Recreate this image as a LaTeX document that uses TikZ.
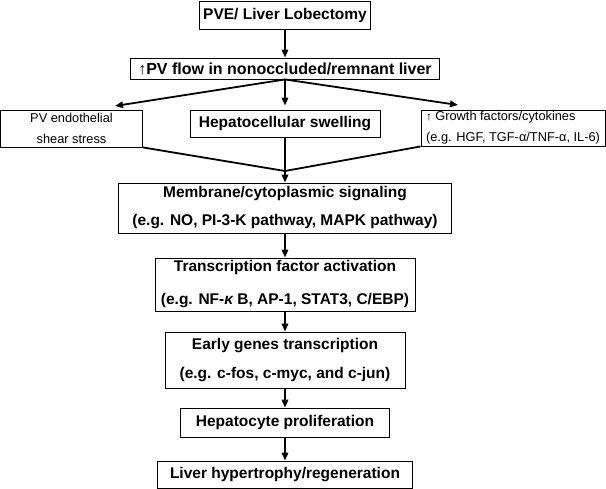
\documentclass[tikz,border=0pt]{standalone}
\usepackage{fontspec}
\setmainfont{Liberation Sans}
\usetikzlibrary{arrows.meta}

\begin{document}
\begin{tikzpicture}[x=1pt,y=-1pt,
  box/.style={draw,line width=0.9pt,inner sep=0pt,align=center,font=\bfseries\fontsize{15.5}{28}\selectfont},
  smallbox/.style={draw,line width=0.9pt,inner sep=0pt,font=\fontsize{12.8}{21}\selectfont},
  arr/.style={line width=1.8pt,-{Triangle[length=8pt,width=6.5pt]}},
  link/.style={line width=1.8pt}]
\useasboundingbox (0,0) rectangle (606,489);

% boxes
\node[box,minimum width=171pt,minimum height=28pt] (pve) at (285,15.5) {PVE/ Liver Lobectomy};
\node[box,minimum width=309pt,minimum height=21pt,font=\bfseries\fontsize{16}{28}\selectfont] (flow) at (285,68.5) {↑PV flow in nonoccluded/remnant liver};
\node[smallbox,align=center,minimum width=142pt,minimum height=37pt] (shear) at (71.5,128.5) {PV endothelial\\shear stress};
\node[box,minimum width=190pt,minimum height=27pt] (swell) at (285,123.5) {Hepatocellular swelling};
\node[smallbox,align=left,minimum width=184pt,minimum height=36pt] (growth) at (513,128) {{\bfseries\fontsize{11.5}{11}\selectfont↑} Growth factors/cytokines\\(e.g. HGF, TGF-α/TNF-α, IL-6)};
\node[box,minimum width=333pt,minimum height=50pt] (sig) at (285,208) {Membrane/cytoplasmic signaling\\(e.g. NO, PI-3-K pathway, MAPK pathway)};
\node[box,minimum width=260pt,minimum height=53pt,font=\bfseries\fontsize{15.5}{33}\selectfont] (tf) at (285,284.5) {Transcription factor activation\\(e.g. NF-{\itshape κ} B, AP-1, STAT3, C/EBP)};
\node[box,minimum width=240pt,minimum height=56pt,font=\bfseries\fontsize{15.5}{29}\selectfont] (early) at (285,360) {Early genes transcription\\(e.g. c-fos, c-myc, and c-jun)};
\node[box,minimum width=209pt,minimum height=29pt] (prolif) at (285,422.5) {Hepatocyte proliferation};
\node[box,minimum width=255pt,minimum height=27pt] (liver) at (285,474.5) {Liver hypertrophy/regeneration};

% free ends
\coordinate (toshear) at (115,106);
\coordinate (togrowth) at (458,105);
\coordinate (join) at (285,171);

% connectors
\draw[arr] (pve) -- (flow);
\draw[arr] (flow.south) -- (toshear);
\draw[arr,shorten >=4pt] (flow.south) -- (swell.north);
\draw[arr] (flow.south) -- (togrowth);
\draw[link] (shear.south east) -- (join) -- (growth.south west);
\draw[link] (swell.south) -- (join);
\draw[arr] (join) -- (sig);
\draw[arr] (sig) -- (tf);
\draw[arr] (tf) -- (early);
\draw[arr] (early) -- (prolif);
\draw[arr] (prolif) -- (liver);
\end{tikzpicture}
\end{document}
